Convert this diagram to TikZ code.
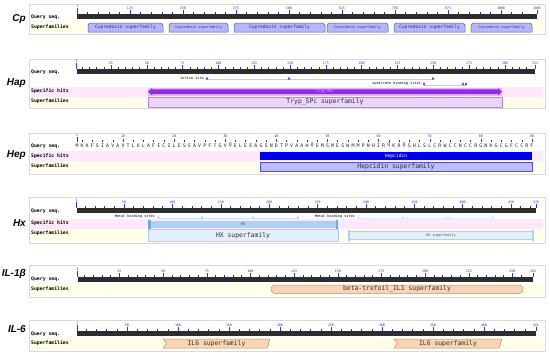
\documentclass[tikz,border=0pt]{standalone}
\usepackage{fontspec}
\setmonofont{DejaVu Sans Mono}
\newfontfamily\genefont{Liberation Sans}
\usepackage{tikz}

\definecolor{rulerbar}{RGB}{45,45,45}
\definecolor{tickblue}{RGB}{50,50,225}
\definecolor{hitpink}{RGB}{255,232,250}
\definecolor{famyellow}{RGB}{255,255,234}
\definecolor{cpfill}{RGB}{182,182,250}
\definecolor{cpdraw}{RGB}{80,80,210}
\definecolor{hapdark}{RGB}{150,40,235}
\definecolor{haplight}{RGB}{222,185,252}
\definecolor{hapfam}{RGB}{236,212,252}
\definecolor{hepblue}{RGB}{0,0,235}
\definecolor{hepfam}{RGB}{188,188,255}
\definecolor{hxhit}{RGB}{168,210,246}
\definecolor{hxedge}{RGB}{110,170,230}
\definecolor{hxfam}{RGB}{226,239,252}
\definecolor{ilfill}{RGB}{249,212,182}
\definecolor{iledge}{RGB}{215,140,80}

\tikzset{
	panel/.style={draw=gray!30, fill=white, line width=0.6pt},
	hitrow/.style={fill=hitpink},
	famrow/.style={fill=famyellow},
	genelabel/.style={font=\genefont\bfseries\itshape\fontsize{10}{12}\selectfont, anchor=east, inner sep=0pt},
	rowlabel/.style={font=\ttfamily\bfseries\fontsize{4.8}{5}\selectfont, anchor=west, inner sep=0pt},
	ticklabel/.style={font=\ttfamily\fontsize{3.3}{3.5}\selectfont, text=tickblue, anchor=south, inner sep=0.3pt},
	majortick/.style={draw=tickblue, line width=0.45pt},
	minortick/.style={draw=tickblue!80!black, line width=0.45pt},
	sitetext/.style={font=\ttfamily\fontsize{3.5}{4}\selectfont, anchor=east, inner sep=0pt},
	bigtext/.style={font=\ttfamily\fontsize{6.4}{7}\selectfont, inner sep=0pt},
	midtext/.style={font=\ttfamily\fontsize{4.6}{5}\selectfont, inner sep=0pt},
	tinytext/.style={font=\ttfamily\fontsize{3.5}{4}\selectfont, inner sep=0pt},
	seqletter/.style={font=\ttfamily\fontsize{4.9}{5}\selectfont, text=black!85, inner sep=0pt},
	cpbox/.style={draw=cpdraw, fill=cpfill, line width=0.5pt},
	ilbox/.style={draw=iledge, fill=ilfill, line width=0.5pt}
}

% ruler: bar top y, x of residue 1, px per residue, length, minor step, major step
\newcommand{\seqruler}[6]{%
	\fill[rulerbar] (#2,#1) rectangle ({#2+(#4-1)*#3},#1+4.5);
	\draw[majortick] (#2,#1-6) -- (#2,#1);
	\node[ticklabel] at (#2,#1-6) {1};
	\pgfmathtruncatemacro\nsteps{floor((#4-1)/#5)}
	\foreach \k in {1,...,\nsteps}{%
		\pgfmathtruncatemacro\res{\k*#5}
		\pgfmathsetmacro\xx{#2+(\res-1)*#3}
		\pgfmathtruncatemacro\ismajor{mod(\res,#6)==0 ? 1 : 0}
		\pgfmathtruncatemacro\nearend{\res > #4-#5/2 ? 1 : 0}
		\ifnum\nearend=0
			\ifnum\ismajor=1
				\draw[majortick] (\xx,#1-4) -- (\xx,#1);
				\node[ticklabel] at (\xx,#1-4) {\res};
			\else
				\draw[minortick] (\xx,#1-2.3) -- (\xx,#1);
			\fi
		\fi
	}
	\pgfmathsetmacro\xend{#2+(#4-1)*#3}
	\draw[majortick] (\xend,#1-4) -- (\xend,#1);
	\node[ticklabel] at (\xend,#1-4) {#4};
}

\begin{document}
\begin{tikzpicture}[x=1pt, y=-1pt, line join=round]
	\useasboundingbox (0,0) rectangle (550,357);
	
	% Cp
	\draw[panel] (29,4) rectangle (545,34);
	\fill[famrow] (31,21.5) rectangle (543,33);
	\node[genelabel] (cp) at (26,19) {Cp};
	\node[rowlabel] (cpquery) at (31,17) {Query seq.};
	\node[rowlabel] (cpfam) at (31,27) {Superfamilies};
	\seqruler{14}{77.4}{0.424}{1085}{25}{125}
	\foreach \a/\b in {88/163, 234/325, 394/465}{
		\draw[cpbox] (\a,32) [rounded corners=3pt] -- (\a,23) -- (\b,23) [sharp corners] -- (\b,32) -- cycle;
		\node[midtext, text=cpdraw!60!black] at ({(\a+\b)/2},27.5) {Cupredoxin superfamily};
	}
	\foreach \a/\b in {169/228, 327/388, 471/532}{
		\draw[cpbox] (\a,32) [rounded corners=3pt] -- (\a,23) -- (\b,23) [sharp corners] -- (\b,32) -- cycle;
		\node[tinytext, text=cpdraw!60!black] at ({(\a+\b)/2},27.5) {Cupredoxin superfamily};
	}
	
	% Hap
	\draw[panel] (29,59) rectangle (545,108);
	\fill[hitrow] (31,87) rectangle (543,97);
	\fill[famrow] (31,97) rectangle (543,107);
	\node[genelabel] (hap) at (26,83) {Hap};
	\node[rowlabel] (hapquery) at (31,72) {Query seq.};
	\node[rowlabel] (haphit) at (31,91.5) {Specific hits};
	\node[rowlabel] (hapfam) at (31,101.5) {Superfamilies};
	\seqruler{69}{76.6}{1.4327}{321}{5}{25}
	\draw[haplight, line width=0.7pt] (207,79.5) -- (433,79.5);
	\foreach \x in {207,289,433}
		\fill[hapdark] (\x-1.4,79.6) -- (\x,76.6) -- (\x+1.4,79.6) -- cycle;
	\node[sitetext] (active) at (204,78) {active site};
	\draw[haplight, line width=0.7pt] (424,85) -- (466,85);
	\foreach \x in {424,463,466}
		\fill[hapdark] (\x-1.4,85.1) -- (\x,82.1) -- (\x+1.4,85.1) -- cycle;
	\node[sitetext] (substrate) at (421,83.5) {substrate binding sites};
	\fill[haplight] (148,87.5) rectangle (502,96);
	\fill[hapdark] (148,91.75) -- (152,88.2) -- (152,89.4) -- (498,89.4) -- (498,88.2)
		-- (502,91.75) -- (498,95.3) -- (498,94.1) -- (152,94.1) -- (152,95.3) -- cycle;
	\node[tinytext, text=haplight] (tryp) at (325,91.7) {Tryp\_SPc};
	\draw[fill=hapfam, draw=hapdark!60, line width=0.5pt] (148,97) rectangle (502,107);
	\node[bigtext, text=black!80] (trypfam) at (325,102) {Tryp\_SPc superfamily};
	
	% Hep
	\draw[panel] (29,133) rectangle (545,174);
	\fill[hitrow] (31,151) rectangle (543,161);
	\fill[famrow] (31,161) rectangle (543,172);
	\node[genelabel] (hep) at (26,155) {Hep};
	\node[rowlabel] (hepquery) at (31,146.5) {Query seq.};
	\node[rowlabel] (hephit) at (31,156) {Specific hits};
	\node[rowlabel] (hepfam) at (31,166) {Superfamilies};
	\draw[majortick] (77,137) -- (77,141.5);
	\node[ticklabel] at (77,137) {1};
	\foreach \i in {2,4,...,88}
		\draw[minortick] ({77+(\i-1)*5.112},140.2) -- ({77+(\i-1)*5.112},141.5);
	\foreach \i in {10,20,...,90}{
		\draw[majortick] ({77+(\i-1)*5.112},138.5) -- ({77+(\i-1)*5.112},141.5);
		\node[ticklabel] at ({77+(\i-1)*5.112},138.5) {\i};
	}
	\foreach \c [count=\i] in {M,K,A,F,S,I,A,V,A,V,T,L,V,L,A,F,I,C,I,L,E,S,S,A,V,P,F,T,G,V,%
		Q,E,L,E,E,A,G,S,N,D,T,P,V,A,A,H,Q,E,M,S,M,E,S,W,M,M,P,N,H,I,%
		R,Q,K,R,Q,S,H,L,S,L,C,R,W,C,C,N,C,C,R,G,N,K,G,C,G,F,C,C,R,F}
		\node[seqletter] at ({77+(\i-1)*5.112},145.5) {\c};
	\fill[hepblue] (260,152) rectangle (532,160);
	\node[midtext, text=white] (hepcidin) at (396,156) {Hepcidin};
	\draw[fill=hepfam, draw=hepblue!70, line width=0.5pt] (260,162) rectangle (532,171);
	\node[bigtext, text=black!80] (hepcidinfam) at (396,166.5) {Hepcidin superfamily};
	
	% Hx
	\draw[panel] (29,197) rectangle (545,243);
	\fill[hitrow] (31,219) rectangle (543,229);
	\fill[famrow] (31,229) rectangle (543,241.5);
	\node[genelabel] (hx) at (26,223) {Hx};
	\node[rowlabel] (hxquery) at (31,211) {Query seq.};
	\node[rowlabel] (hxhit) at (31,223.5) {Specific hits};
	\node[rowlabel] (hxfam) at (31,233.5) {Superfamilies};
	\seqruler{208}{76.6}{0.9675}{476}{10}{50}
	\draw[hxhit!60, line width=0.5pt] (158,218.3) -- (298,218.3);
	\foreach \x in {158,202,253,298}
		\fill[hxhit] (\x-1.4,218.4) -- (\x,215.6) -- (\x+1.4,218.4) -- cycle;
	\node[sitetext] (metalone) at (155,216.5) {Metal binding sites};
	\draw[hxhit!40, line width=0.5pt] (358,218.3) -- (493,218.3);
	\foreach \x in {358,403,448,493}
		\fill[hxhit!50] (\x-1.4,218.4) -- (\x,215.6) -- (\x+1.4,218.4) -- cycle;
	\node[sitetext] (metaltwo) at (355,216.5) {Metal binding sites};
	\fill[hxhit] (148,220.5) rectangle (338,227.5);
	\fill[hxedge] (148,219.5) rectangle (150.5,228.5);
	\fill[hxedge] (335.5,219.5) rectangle (338,228.5);
	\node[tinytext, text=black!70] (hxdomain) at (243,224) {HX};
	\draw[fill=hxfam, draw=hxhit, line width=0.5pt] (148,229.5) rectangle (338,241);
	\node[bigtext, text=black!80] (hxfamone) at (243,235.3) {HX superfamily};
	\draw[fill=hxfam, draw=hxhit, line width=0.5pt] (349,231) rectangle (533,239.5);
	\fill[hxhit] (348,230) rectangle (350,240.5);
	\fill[hxhit] (532,230) rectangle (534,240.5);
	\node[tinytext, text=black!70] (hxfamtwo) at (441,235.3) {HX superfamily};
	
	% IL-1 beta
	\draw[panel] (29,265) rectangle (545,297);
	\fill[famrow] (31,284) rectangle (543,295);
	\node[genelabel] (ilone) at (26,274) {IL-1β};
	\node[rowlabel] (ilonequery) at (31,279.5) {Query seq.};
	\node[rowlabel] (ilonefam) at (31,289) {Superfamilies};
	\seqruler{277}{77.5}{1.7467}{262}{5}{25}
	\draw[ilbox, rounded corners=4pt] (271,285) rectangle (523,293.5);
	\node[bigtext, text=black!80] (trefoil) at (397,289.3) {beta-trefoil\_IL1 superfamily};
	
	% IL-6
	\draw[panel] (29,320) rectangle (545,351);
	\fill[famrow] (31,338) rectangle (543,349);
	\node[genelabel] (ilsix) at (26,329) {IL-6};
	\node[rowlabel] (ilsixquery) at (31,334) {Query seq.};
	\node[rowlabel] (ilsixfam) at (31,343.5) {Superfamilies};
	\seqruler{331}{77}{1.02}{451}{10}{50}
	\foreach \a/\b in {163/270, 394/502}{
		\draw[ilbox] (\a,339) -- (\b,339) -- (\b-3,348) -- (\a,348) -- (\a+3.5,343.5) -- cycle;
		\node[bigtext, text=black!80] at ({(\a+\b)/2},343.5) {IL6 superfamily};
	}
	
\end{tikzpicture}
\end{document}
